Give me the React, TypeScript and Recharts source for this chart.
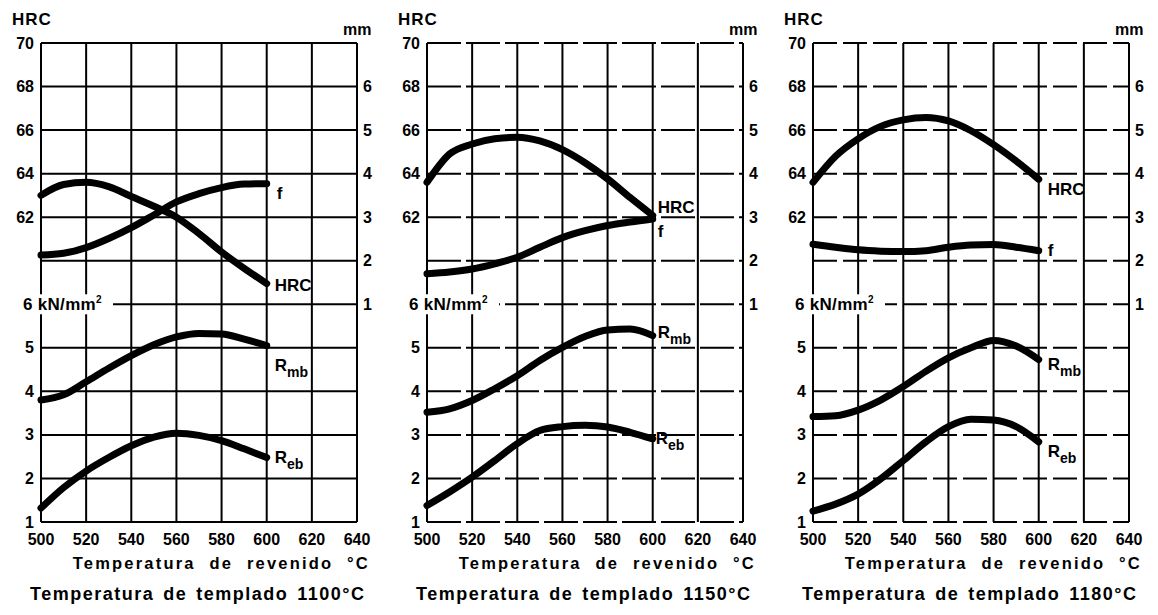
import React from 'react';
import { LineChart, Line, XAxis, YAxis, CartesianGrid } from 'recharts';

// temperatura de revenido (°C)
const temps = [500, 510, 520, 530, 540, 550, 560, 570, 580, 590, 600];
const xTicks = [500, 520, 540, 560, 580, 600, 620, 640];

// eje izquierdo: HRC arriba, kN/mm² abajo (misma rejilla)
const hrcTicks = [48, 50, 52, 54, 56, 58, 60, 62, 64, 66, 68, 70];
const mmTicks = [1, 2, 3, 4, 5, 6];
const knLabels: Record<number, string> = { 48: '1', 50: '2', 52: '3', 54: '4', 56: '5' };

// templado 1100 °C
const hrc1100 = [63.0, 63.5, 63.6, 63.4, 62.95, 62.5, 62.0, 61.25, 60.4, 59.65, 58.95];
const f1100 = [2.13, 2.17, 2.3, 2.51, 2.76, 3.05, 3.35, 3.54, 3.68, 3.76, 3.77];
const rmb1100 = [3.8, 3.92, 4.22, 4.53, 4.82, 5.07, 5.25, 5.33, 5.32, 5.2, 5.05];
const reb1100 = [1.32, 1.79, 2.17, 2.48, 2.75, 2.95, 3.04, 2.99, 2.87, 2.68, 2.48];

// templado 1150 °C
const hrc1150 = [63.6, 64.9, 65.36, 65.6, 65.67, 65.5, 65.1, 64.5, 63.76, 62.9, 62.08];
const f1150 = [1.7, 1.74, 1.81, 1.93, 2.08, 2.31, 2.53, 2.69, 2.81, 2.89, 2.96];
const rmb1150 = [3.52, 3.6, 3.79, 4.06, 4.36, 4.71, 5.01, 5.26, 5.41, 5.43, 5.28];
const reb1150 = [1.38, 1.69, 2.03, 2.41, 2.8, 3.1, 3.19, 3.22, 3.18, 3.06, 2.91];

// templado 1180 °C
const hrc1180 = [63.6, 64.8, 65.6, 66.17, 66.47, 66.58, 66.42, 65.97, 65.33, 64.58, 63.74];
const f1180 = [2.38, 2.31, 2.25, 2.22, 2.21, 2.23, 2.31, 2.36, 2.37, 2.31, 2.23];
const rmb1180 = [3.42, 3.44, 3.57, 3.8, 4.11, 4.46, 4.77, 5.0, 5.17, 5.04, 4.73];
const reb1180 = [1.25, 1.41, 1.64, 1.99, 2.41, 2.84, 3.19, 3.36, 3.34, 3.19, 2.84];

const FONT = '"Liberation Sans", Arial, Helvetica, sans-serif';
const W = 386;
const H = 615;

function buildRows(hrc: number[], f: number[], rmb: number[], reb: number[]) {
  return temps.map((t, i) => ({ t, hrc: hrc[i], f: f[i], rmb: rmb[i], reb: reb[i] }));
}

function LeftTick(props: any) {
  const { x, y, payload } = props;
  const v = payload.value;
  if (v >= 62) {
    return (
      <text x={x} y={y} textAnchor="end" dominantBaseline="central" fontSize={16} fontWeight="bold" fontFamily={FONT} fill="#000">
        {v}
      </text>
    );
  }
  if (v === 58) {
    return (
      <g>
        <rect x={x - 13} y={y - 10} width={92} height={20} fill="#fff" />
        <text x={x - 11} y={y} dominantBaseline="central" fontSize={17} fontWeight="bold" fontFamily={FONT} fill="#000" letterSpacing={0.3}>
          6 kN/mm<tspan dy={-5} fontSize={10}>2</tspan>
        </text>
      </g>
    );
  }
  if (knLabels[v]) {
    return (
      <text x={x} y={y} textAnchor="end" dominantBaseline="central" fontSize={16} fontWeight="bold" fontFamily={FONT} fill="#000">
        {knLabels[v]}
      </text>
    );
  }
  return <g />;
}

function endLabel(main: string, sub: string, dx: number, dy: number) {
  return (props: any) => {
    const { x, y, index } = props;
    if (index !== temps.length - 1) return <g />;
    return (
      <text x={x + dx} y={y + dy} dominantBaseline="central" fontSize={17} fontWeight="bold" fontFamily={FONT} fill="#000">
        {main}
        {sub ? <tspan dy={6} fontSize={14}>{sub}</tspan> : null}
      </text>
    );
  };
}

type LabelPos = { hrc: [number, number]; f: [number, number]; rmb: [number, number]; reb: [number, number] };

function Panel({ left, data, caption, dash, pos }: { left: number; data: any[]; caption: string; dash?: string; pos: LabelPos }) {
  const line = { stroke: '#000', strokeWidth: 7, dot: false, isAnimationActive: false, strokeLinecap: 'round' as const };
  return (
    <div style={{ position: 'absolute', left, top: 0, width: W, height: H, fontFamily: FONT, color: '#000' }}>
      <div style={{ position: 'absolute', left: 12, top: 10, fontSize: 17, fontWeight: 'bold', letterSpacing: 1 }}>HRC</div>
      <div style={{ position: 'absolute', left: 343, top: 21, fontSize: 16, fontWeight: 'bold' }}>mm</div>
      <LineChart width={W} height={H} data={data} margin={{ top: 43, right: 0, bottom: 63, left: 0 }}>
        <CartesianGrid yAxisId="hrc" horizontal={false} stroke="#000" strokeWidth={2} strokeOpacity={1} />
        <CartesianGrid yAxisId="hrc" vertical={false} stroke="#000" strokeWidth={2} strokeOpacity={1} strokeDasharray={dash} />
        <XAxis
          dataKey="t"
          type="number"
          domain={[500, 640]}
          ticks={xTicks}
          interval={0}
          axisLine={false}
          tickLine={false}
          tickSize={0}
          tickMargin={12}
          height={30}
          tick={{ fontSize: 16, fontWeight: 'bold', fill: '#000', fontFamily: FONT }}
        />
        <YAxis yAxisId="hrc" orientation="left" type="number" domain={[48, 70]} ticks={hrcTicks} interval={0} width={41} axisLine={false} tickLine={false} tickSize={0} tickMargin={7} tick={<LeftTick />} />
        <YAxis yAxisId="kn" hide type="number" domain={[1, 12]} />
        <YAxis
          yAxisId="mm"
          orientation="right"
          type="number"
          domain={[-4, 7]}
          ticks={mmTicks}
          interval={0}
          width={29}
          axisLine={false}
          tickLine={false}
          tickSize={0}
          tickMargin={6}
          tick={{ fontSize: 16, fontWeight: 'bold', fill: '#000', fontFamily: FONT }}
        />
        <Line yAxisId="hrc" type="monotone" dataKey="hrc" {...line} label={endLabel('HRC', '', pos.hrc[0], pos.hrc[1])} />
        <Line yAxisId="mm" type="monotone" dataKey="f" {...line} label={endLabel('f', '', pos.f[0], pos.f[1])} />
        <Line yAxisId="kn" type="monotone" dataKey="rmb" {...line} label={endLabel('R', 'mb', pos.rmb[0], pos.rmb[1])} />
        <Line yAxisId="kn" type="monotone" dataKey="reb" {...line} label={endLabel('R', 'eb', pos.reb[0], pos.reb[1])} />
      </LineChart>
      <div style={{ position: 'absolute', right: W - 370, top: 554, fontSize: 16.5, fontWeight: 'bold', letterSpacing: 2.2, wordSpacing: 7, whiteSpace: 'nowrap' }}>
        Temperatura de revenido °C
      </div>
      <div style={{ position: 'absolute', left: 30, top: 584, fontSize: 18, fontWeight: 'bold', letterSpacing: 1.5, wordSpacing: 2.5, whiteSpace: 'nowrap' }}>
        {caption}
      </div>
    </div>
  );
}

export default function App() {
  return (
    <div style={{ position: 'absolute', left: 0, top: 0, width: 1158, height: 615, background: '#fff', overflow: 'hidden' }}>
      <Panel
        left={0}
        data={buildRows(hrc1100, f1100, rmb1100, reb1100)}
        caption="Temperatura de templado 1100°C"
        pos={{ hrc: [8, 2], f: [10, 10], rmb: [8, 20], reb: [8, 0] }}
      />
      <Panel
        left={386}
        dash="34 5"
        data={buildRows(hrc1150, f1150, rmb1150, reb1150)}
        caption="Temperatura de templado 1150°C"
        pos={{ hrc: [5, -8], f: [5, 13], rmb: [5, -3], reb: [3, 0] }}
      />
      <Panel
        left={772}
        dash="24 6"
        data={buildRows(hrc1180, f1180, rmb1180, reb1180)}
        caption="Temperatura de templado 1180°C"
        pos={{ hrc: [9, 10], f: [9, 0], rmb: [9, 5], reb: [9, 10] }}
      />
    </div>
  );
}
